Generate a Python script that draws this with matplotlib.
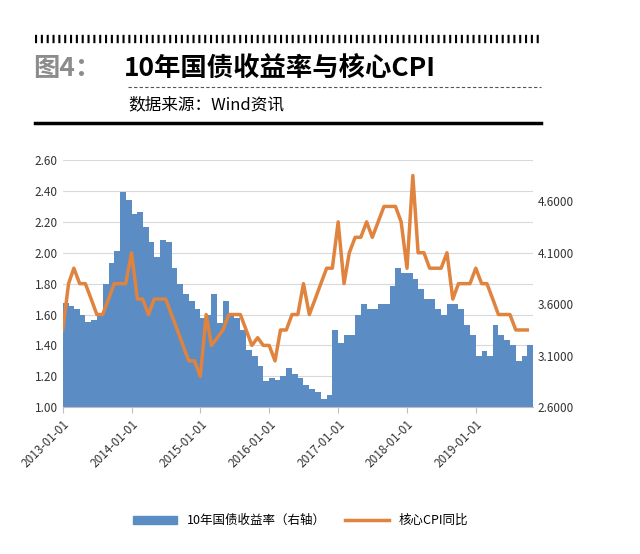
import matplotlib
matplotlib.use("Agg")
import matplotlib.pyplot as plt
import pandas as pd

plt.rcParams["font.family"] = "Noto Sans CJK SC"

# 核心CPI同比 (left axis), monthly 2013-01 .. 2019-10
cpi = [1.5, 1.8, 1.9, 1.8, 1.8, 1.7, 1.6, 1.6, 1.7, 1.8, 1.8, 1.8,
       2.0, 1.7, 1.7, 1.6, 1.7, 1.7, 1.7, 1.6, 1.5, 1.4, 1.3, 1.3,
       1.2, 1.6, 1.4, 1.45, 1.5, 1.6, 1.6, 1.6, 1.5, 1.4, 1.45, 1.4,
       1.4, 1.3, 1.5, 1.5, 1.6, 1.6, 1.8, 1.6, 1.7, 1.8, 1.9, 1.9,
       2.2, 1.8, 2.0, 2.1, 2.1, 2.2, 2.1, 2.2, 2.3, 2.3, 2.3, 2.2,
       1.9, 2.5, 2.0, 2.0, 1.9, 1.9, 1.9, 2.0, 1.7, 1.8, 1.8, 1.8,
       1.9, 1.8, 1.8, 1.7, 1.6, 1.6, 1.6, 1.5, 1.5, 1.5]
cpi_dates = pd.date_range("2013-01-01", periods=len(cpi), freq="MS")

# 10年国债收益率 (right axis), monthly 2013-01 .. 2019-11
yld = [3.61, 3.58, 3.55, 3.50, 3.43, 3.45, 3.50, 3.80, 4.00, 4.12, 4.69, 4.61,
       4.48, 4.50, 4.35, 4.20, 4.06, 4.22, 4.20, 3.95, 3.80, 3.70, 3.63, 3.55,
       3.47, 3.50, 3.70, 3.42, 3.63, 3.50, 3.47, 3.35, 3.16, 3.10, 3.00, 2.85,
       2.88, 2.86, 2.90, 2.98, 2.92, 2.88, 2.82, 2.78, 2.75, 2.68, 2.72, 3.35,
       3.22, 3.30, 3.30, 3.50, 3.60, 3.55, 3.55, 3.60, 3.60, 3.78, 3.95, 3.90,
       3.90, 3.85, 3.75, 3.65, 3.65, 3.55, 3.50, 3.60, 3.60, 3.55, 3.40, 3.30,
       3.10, 3.15, 3.10, 3.40, 3.30, 3.25, 3.20, 3.05, 3.10, 3.20, 3.30]
yld_dates = pd.date_range("2013-01-01", periods=len(yld), freq="MS")

years = pd.date_range("2013-01-01", "2019-01-01", freq="YS")
left_ticks = [1.00, 1.20, 1.40, 1.60, 1.80, 2.00, 2.20, 2.40, 2.60]
right_ticks = [2.6, 3.1, 3.6, 4.1, 4.6]

blue = "#5b8cc3"
orange = "#e0833e"

fig = plt.figure(figsize=(6.4, 5.54), dpi=100)

# header
fig.text(0.052, 0.877, "图4：", fontsize=19, fontweight="bold", color="#8c8c8c", va="center")
fig.text(0.193, 0.877, "10年国债收益率与核心CPI", fontsize=19, fontweight="bold", color="black", va="center")
fig.text(0.2, 0.81, "数据来源：Wind资讯", fontsize=12, color="black", va="center")
fig.add_artist(plt.Line2D([0.055, 0.845], [0.93, 0.93], color="black", lw=6, ls=(0, (0.25, 0.45)),
                          transform=fig.transFigure))
fig.add_artist(plt.Line2D([0.2, 0.845], [0.843, 0.843], color="#555555", lw=0.8, ls=(0, (3, 2)),
                          transform=fig.transFigure))
fig.add_artist(plt.Line2D([0.055, 0.845], [0.778, 0.778], color="black", lw=2.5,
                          transform=fig.transFigure))

ax = fig.add_axes([0.098, 0.265, 0.735, 0.446])
ax2 = ax.twinx()
ax.set_zorder(ax2.get_zorder() + 1)
ax.patch.set_visible(False)

# gridlines behind the area
for v in left_ticks:
    ax2.axhline(2.6 + (v - 1.0) * 1.5, color="#d9d9d9", lw=0.8, zorder=0)
ax2.fill_between(yld_dates, yld, 2.6, step="post", color=blue, lw=0, zorder=1)
ax2.set_ylim(2.6, 5.0)
ax2.set_yticks(right_ticks)
ax2.set_yticklabels([f"{v:.4f}" for v in right_ticks], fontsize=8.5, color="#333333")

ax.plot(cpi_dates, cpi, color=orange, lw=2.5)
ax.set_ylim(1.0, 2.6)
ax.set_yticks(left_ticks)
ax.set_yticklabels([f"{v:.2f}" for v in left_ticks], fontsize=8.5, color="#333333")
ax.set_xlim(pd.Timestamp("2013-01-01"), yld_dates[-1])
ax.set_xticks(years)
ax.set_xticklabels([d.strftime("%Y-%m-%d") for d in years], rotation=45, ha="right",
                   rotation_mode="anchor", fontsize=8.5, color="#333333")
for a in (ax, ax2):
    for s in a.spines.values():
        s.set_visible(False)
    a.tick_params(length=0)
ax.spines["bottom"].set_visible(True)
ax.spines["bottom"].set_color("#bfbfbf")
ax.tick_params(axis="x", length=4, color="#bfbfbf")

handles = [plt.Rectangle((0, 0), 1, 1, color=blue), plt.Line2D([], [], color=orange, lw=2.5)]
fig.legend(handles, ["10年国债收益率（右轴）", "核心CPI同比"], loc="center", bbox_to_anchor=(0.47, 0.06),
           ncol=2, frameon=False, fontsize=9, handlelength=3.5, columnspacing=1.5)

fig.savefig("out.png", dpi=100)
